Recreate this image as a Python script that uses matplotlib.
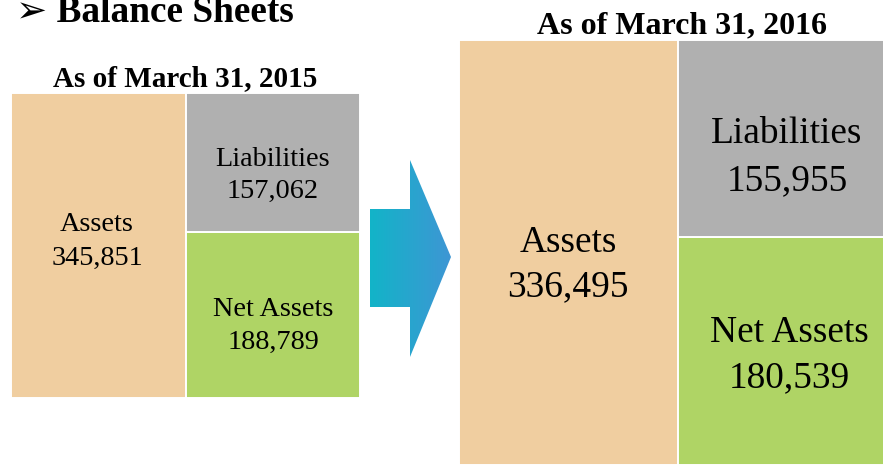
import matplotlib
matplotlib.use("Agg")
import matplotlib.pyplot as plt
import numpy as np
from matplotlib.patches import Polygon

# ---- data ----
headers = ["As of March 31, 2015", "As of March 31, 2016"]
categories = ["Assets", "Liabilities", "Net Assets"]
assets = [345851, 336495]
liabilities = [157062, 155955]
net_assets = [188789, 180539]
title = "➢ Balance Sheets"

W, H = 883, 465
fig = plt.figure(figsize=(W / 100, H / 100), dpi=100)
fig.patch.set_facecolor("white")

C_ASSETS = "#F0CEA0"
C_LIAB = "#B0B0B0"
C_NET = "#AFD465"
SERIF = ["Liberation Serif", "DejaVu Serif"]


def fx(px):
    return px / W


def fy(py):
    return 1 - py / H


def add_block(i, left, right, top, bottom, fs, text_pos):
    ax = fig.add_axes([fx(left), fy(bottom), fx(right - left), (bottom - top) / H])
    ax.set_xlim(-0.5, 1.5)
    ax.set_ylim(0, assets[i])
    ax.axis("off")
    kw = dict(width=1.0, edgecolor="white", linewidth=1.4)
    ax.bar([0], [assets[i]], color=C_ASSETS, **kw)
    ax.bar([1], [net_assets[i]], color=C_NET, **kw)
    ax.bar([1], [liabilities[i]], bottom=[net_assets[i]], color=C_LIAB, **kw)
    values = [assets[i], liabilities[i], net_assets[i]]
    for cat, val, (cx, b1, b2) in zip(categories, values, text_pos):
        fig.text(fx(cx), fy(b1), cat, ha="center", va="baseline",
                 fontsize=fs, family=SERIF, color="black")
        fig.text(fx(cx), fy(b2), f"{val:,}", ha="center", va="baseline",
                 fontsize=fs, family=SERIF, color="black")


# 2015 block
add_block(0, 11, 360, 93, 398, 20.3,
          [(97, 231, 265), (273, 166, 198), (273, 316, 349)])
# 2016 block
add_block(1, 459, 897, 40, 465, 26.9,
          [(568, 252, 296), (787, 143, 190), (789, 342, 387)])

# headers
fig.text(fx(185), fy(86), headers[0], ha="center", va="baseline",
         fontsize=21, fontweight="bold", family=SERIF)
fig.text(fx(682), fy(33), headers[1], ha="center", va="baseline",
         fontsize=23, fontweight="bold", family=SERIF)

# title
fig.text(fx(16), fy(22), title, ha="left", va="baseline",
         fontsize=26.8, fontweight="bold",
         family=["Liberation Serif", "DejaVu Sans"])

# gradient arrow (decoration)
axa = fig.add_axes([0, 0, 1, 1], zorder=5)
axa.set_xlim(0, W)
axa.set_ylim(H, 0)
axa.axis("off")
pts = [(370, 209), (410, 209), (410, 160), (451, 257), (410, 357),
       (410, 307), (370, 307)]
poly = Polygon(pts, closed=True, facecolor="none", edgecolor="none")
axa.add_patch(poly)
c1 = np.array([18, 180, 200]) / 255
c2 = np.array([62, 150, 212]) / 255
t = np.linspace(0, 1, 256)
grad = (c1[None, :] * (1 - t[:, None]) + c2[None, :] * t[:, None])[None, :, :]
im = axa.imshow(grad, extent=[370, 451, 357, 160], aspect="auto",
                interpolation="bilinear")
im.set_clip_path(poly)
axa.set_xlim(0, W)
axa.set_ylim(H, 0)

fig.savefig("out.png", dpi=100, facecolor="white")
